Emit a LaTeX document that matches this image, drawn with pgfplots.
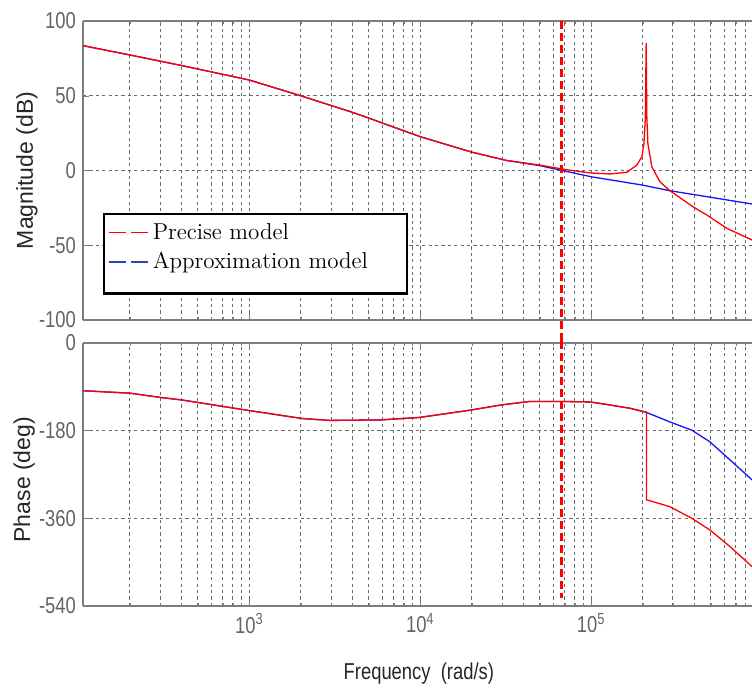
\documentclass[border=0pt]{standalone}
\usepackage{fontspec}
\usepackage{pgfplots}
\pgfplotsset{compat=1.18}
\newfontfamily\axfont{Liberation Sans}
\newfontfamily\axfontc[FakeStretch=0.8]{Liberation Sans}
\definecolor{tickgray}{RGB}{100,100,100}
\definecolor{framegray}{RGB}{125,125,125}
\definecolor{gridgray}{RGB}{105,105,105}
\definecolor{preciseRed}{RGB}{255,0,0}
\definecolor{approxBlue}{RGB}{20,20,255}
\definecolor{legBlue}{RGB}{40,70,180}
\pgfkeys{/pgf/number format/assume math mode=true}
\pgfplotsset{
    scale only axis, width=334.5pt,
    axis y line*=left, axis line style={-, framegray, line width=0.6pt},
    grid=both,
    major grid style={gridgray, line width=0.4pt, dash pattern=on 1.6pt off 1.6pt},
    minor grid style={gridgray, line width=0.4pt, dash pattern=on 1.6pt off 1.6pt},
    tick align=inside, tick style={framegray},
    major tick length=3pt, minor tick length=1.5pt,
    ticklabel style={font=\axfontc\fontsize{11.5}{12}\selectfont, text=tickgray},
    clip=false,
}
\begin{document}
\begin{tikzpicture}
\path[use as bounding box] (0,0) rectangle (376pt,-344.5pt);
% ---------------- Magnitude ----------------
\begin{axis}[at={(41.5pt,-10.5pt)}, anchor=north west, height=149.5pt,
  xmode=log, xmin=106.4, xmax=870964,
  xtick={1e3,1e4,1e5},
  minor xtick={200,300,400,500,600,700,800,900,2000,3000,4000,5000,6000,7000,8000,9000,2e4,3e4,4e4,5e4,6e4,7e4,8e4,9e4,2e5,3e5,4e5,5e5,6e5,7e5,8e5},
  ymin=-100, ymax=100, ytick={-100,-50,0,50,100},
  xticklabels={},
  ylabel={Magnitude (dB)},
  ylabel style={font=\axfont\fontsize{11.5}{12}\selectfont, text=black!85,
    at={(axis description cs:-0.084,0.5)}, anchor=center},
  legend image code/.code={\draw[#1, line width=0.8pt, dash pattern=on 8.5pt off 2.5pt] (0pt,0pt) -- (19.5pt,0pt);},
  legend style={at={(0.03,0.358)}, anchor=north west, draw=black, line width=1.1pt,
    font=\fontsize{11.5}{13}\selectfont, inner xsep=2pt, inner ysep=2.5pt,
    row sep=1pt, cells={anchor=west}},
  legend cell align=left,
]
\addlegendimage{preciseRed}
\addlegendentry{Precise model}
\addlegendimage{legBlue}
\addlegendentry{Approximation model\hspace{15.5pt}\mbox{}}
\addlegendimage{empty legend}
\addlegendentry{}
% Approximation model
\addplot[approxBlue, line width=0.65pt, forget plot] coordinates {
(106.4,83.5) (199.5,77.3) (398.1,70.3) (1000,60.5) (1995,50.0) (3981,39.0)
(5012,35.0) (6310,30.8) (10000,22.6) (19953,12.3) (31623,6.8) (50119,3.2)
(70795,-0.5) (100000,-4.2) (197697,-9.7) (287740,-13.5) (870964,-22.4)
};
% Precise model
\addplot[preciseRed, line width=0.65pt, forget plot] coordinates {
(106.4,83.5) (199.5,77.3) (398.1,70.3) (1000,60.5) (1995,50.0) (3981,39.0)
(5012,35.0) (6310,30.8) (10000,22.6) (19953,12.3) (31623,6.8) (50119,3.6)
(70795,0.6) (100000,-1.7) (128529,-2.3) (161436,-1.2) (184927,3.7)
(197697,9.2) (203236,18) (207014,35) (209411,85.3) (211349,35) (214289,18)
(225943,2.5) (251768,-7.5) (287740,-13.5) (392645,-24.2) (474242,-29.8)
(620869,-38.7) (870964,-46.5)
};
% vertical marker
\addplot[preciseRed, line width=1.3pt, dash pattern=on 4pt off 2pt, forget plot]
  coordinates {(67000,100) (67000,-115)};
\end{axis}
% ---------------- Phase ----------------
\begin{axis}[at={(41.5pt,-171.5pt)}, anchor=north west, height=131.5pt,
  xmode=log, xmin=106.4, xmax=870964,
  xtick={1e3,1e4,1e5},
  minor xtick={200,300,400,500,600,700,800,900,2000,3000,4000,5000,6000,7000,8000,9000,2e4,3e4,4e4,5e4,6e4,7e4,8e4,9e4,2e5,3e5,4e5,5e5,6e5,7e5,8e5},
  ymin=-540, ymax=0, ytick={-540,-360,-180,0},
  xticklabels={10\textsuperscript{3},10\textsuperscript{4},10\textsuperscript{5}},
  ylabel={Phase (deg)},
  ylabel style={font=\axfont\fontsize{11.5}{12}\selectfont, text=black!85,
    at={(axis description cs:-0.088,0.48)}, anchor=center},
  xlabel={Frequency\ \ (rad/s)},
  xlabel style={font=\axfontc\fontsize{11.5}{12}\selectfont, text=black!85,
    at={(axis description cs:0.502,-0.255)}, anchor=center},
]
\addplot[approxBlue, line width=0.65pt] coordinates {
(106.4,-98) (200.4,-103) (304.1,-112) (403.6,-117) (1009,-139) (2032,-155)
(2958,-159) (5808,-158) (9817,-153) (19498,-138) (29992,-127) (43752,-120)
(65464,-120) (98175,-121) (116950,-125) (168267,-134) (197697,-140)
(208449,-142) (287740,-162) (387258,-179) (494311,-203) (647143,-240) (870964,-281)
};
\addplot[preciseRed, line width=0.65pt] coordinates {
(106.4,-98) (200.4,-103) (304.1,-112) (403.6,-117) (1009,-139) (2032,-155)
(2958,-159) (5808,-158) (9817,-153) (19498,-138) (29992,-127) (43752,-120)
(65464,-120) (98175,-121) (116950,-125) (168267,-134) (197697,-140)
(210378,-142) (210378,-322) (287740,-336) (387258,-360) (494311,-384)
(647143,-418) (870964,-459)
};
\addplot[preciseRed, line width=1.3pt, dash pattern=on 4pt off 2pt]
  coordinates {(67000,5) (67000,-524)};
\end{axis}
\end{tikzpicture}
\end{document}
